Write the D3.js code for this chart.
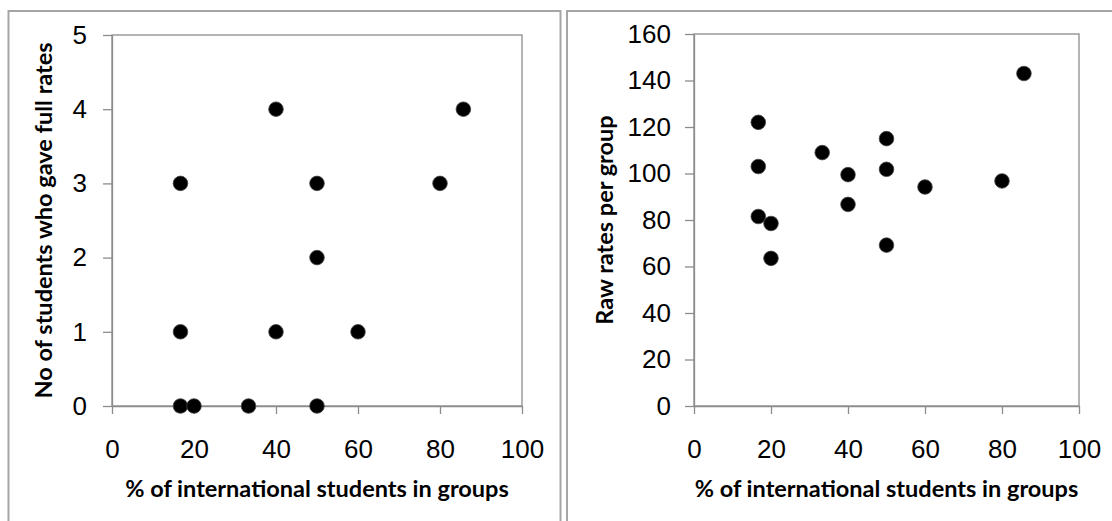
<!DOCTYPE html>
<html>
<head>
<meta charset="utf-8">
<script src="https://cdn.jsdelivr.net/npm/d3@7"></script>
<style>
  body { margin: 0; background: #fff; }
  svg { display: block; font-family: Lato, "Open Sans", sans-serif; }
  .axis path, .axis line { stroke: #8c8c8c; stroke-width: 1.3; }
  .axis text { font-size: 26px; fill: #000; }
  .title { font-size: 23.5px; font-weight: bold; fill: #000; }
</style>
</head>
<body>
<div id="chart"></div>
<script>
// Data
const xTicks = [0, 20, 40, 60, 80, 100];

// Left chart: number of students who gave full rates
const leftX = [16.7, 16.7, 16.7, 20, 33.3, 40, 40, 50, 50, 50, 60, 80, 85.7];
const leftY = [3, 1, 0, 0, 0, 4, 1, 3, 2, 0, 1, 3, 4];
const leftYTicks = [0, 1, 2, 3, 4, 5];

// Right chart: raw rates per group
const rightX = [16.7, 16.7, 16.7, 20, 20, 33.3, 40, 40, 50, 50, 50, 60, 80, 85.7];
const rightY = [122, 103, 81.5, 78.5, 63.5, 109, 99.5, 86.7, 115, 101.8, 69.2, 94.2, 96.8, 143];
const rightYTicks = [0, 20, 40, 60, 80, 100, 120, 140, 160];

const xTitle = "% of international students in groups";

const svg = d3.select("#chart")
    .append("svg")
    .attr("width", 1112)
    .attr("height", 521);

// Panel frames
svg.append("rect")
    .attr("x", 8.5).attr("y", 11)
    .attr("width", 552).attr("height", 530)
    .attr("fill", "none").attr("stroke", "#a6a6a6").attr("stroke-width", 2);
svg.append("rect")
    .attr("x", 567).attr("y", 11)
    .attr("width", 560).attr("height", 530)
    .attr("fill", "none").attr("stroke", "#a6a6a6").attr("stroke-width", 2);

function drawPanel(opts) {
    const { left, right, top, bottom, xs, ys, yMax, yTicks, yTitle, yTitleX, padY } = opts;

    const x = d3.scaleLinear().domain([0, 100]).range([left, right]);
    const y = d3.scaleLinear().domain([0, yMax]).range([bottom, top]);

    // Plot area border
    svg.append("rect")
        .attr("x", left).attr("y", top)
        .attr("width", right - left).attr("height", bottom - top)
        .attr("fill", "none").attr("stroke", "#8c8c8c").attr("stroke-width", 1.3);

    svg.append("g")
        .attr("class", "axis")
        .attr("transform", `translate(0,${bottom})`)
        .call(d3.axisBottom(x).tickValues(xTicks).tickFormat(d3.format("d"))
            .tickSize(8).tickSizeOuter(0).tickPadding(26));

    svg.append("g")
        .attr("class", "axis")
        .attr("transform", `translate(${left},0)`)
        .call(d3.axisLeft(y).tickValues(yTicks).tickFormat(d3.format("d"))
            .tickSize(9).tickSizeOuter(0).tickPadding(padY));

    svg.append("text")
        .attr("class", "title")
        .attr("text-anchor", "middle")
        .attr("x", (left + right) / 2)
        .attr("y", 497)
        .text(xTitle);

    svg.append("text")
        .attr("class", "title")
        .attr("text-anchor", "middle")
        .attr("transform", `translate(${yTitleX},${(top + bottom) / 2}) rotate(-90)`)
        .text(yTitle);

    svg.append("g")
        .selectAll("circle")
        .data(xs.map((v, i) => [v, ys[i]]))
        .join("circle")
        .attr("cx", d => x(d[0]))
        .attr("cy", d => y(d[1]))
        .attr("r", 7.3)
        .attr("fill", "#000")
        .attr("stroke", "#444")
        .attr("stroke-width", 0.8);
}

drawPanel({
    left: 112, right: 522, top: 35, bottom: 406,
    xs: leftX, ys: leftY, yMax: 5, yTicks: leftYTicks,
    yTitle: "No of students who gave full rates", yTitleX: 52, padY: 16
});

drawPanel({
    left: 694, right: 1079, top: 34, bottom: 406,
    xs: rightX, ys: rightY, yMax: 160, yTicks: rightYTicks,
    yTitle: "Raw rates per group", yTitleX: 613, padY: 14
});
</script>
</body>
</html>
